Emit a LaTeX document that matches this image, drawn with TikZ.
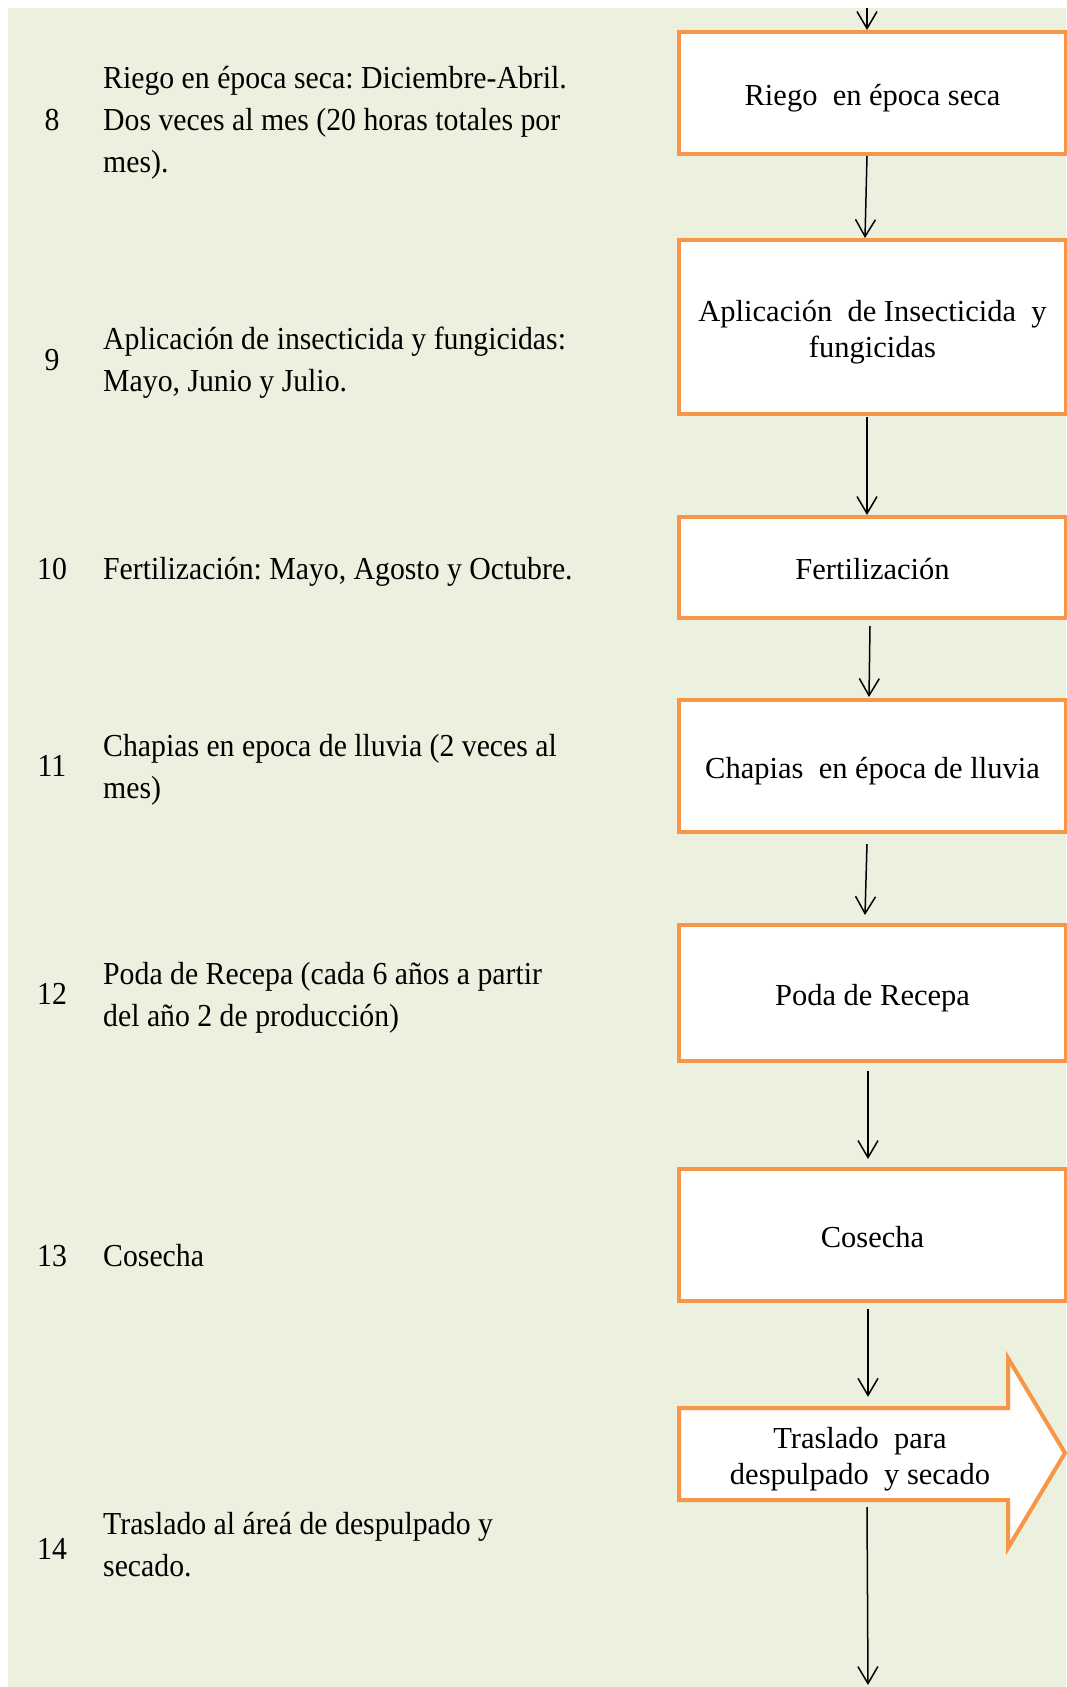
\documentclass[tikz,border=0pt]{standalone}
\usepackage{fontspec}
\setmainfont{Liberation Serif}
\newfontfamily\leftfont[FakeStretch=0.93]{Liberation Serif}
\usetikzlibrary{arrows.meta}
\definecolor{boxorange}{HTML}{F79646}
\definecolor{bggreen}{HTML}{EBF1DE}
\frenchspacing
\newcommand\leftfs{\leftfont\fontsize{32}{42}\selectfont\frenchspacing}
\newcommand\boxfs{\fontsize{30.5}{36}\selectfont\frenchspacing}
\begin{document}
\begin{tikzpicture}[x=1pt,y=-1pt,
  stepbox/.style={draw=boxorange, line width=4pt, fill=white, inner sep=0pt, minimum width=387pt, font=\boxfs, align=center},
  flow/.style={line width=1.5pt, -{Straight Barb[length=17pt,width=20pt]}},
  lefttxt/.style={anchor=base west, align=left, font=\leftfs, inner sep=0pt},
  numtxt/.style={anchor=base, font=\leftfs, inner sep=0pt},
  one/.style={text height=24pt, text depth=0pt},
  two/.style={text height=60pt, text depth=0pt}]
\useasboundingbox (0,0) rectangle (1066,1687);
\fill[white] (0,0) rectangle (1066,1687);
\fill[bggreen] (8,8) rectangle (1066,1687);

% left column (base anchor = baseline of the last line)
\node[lefttxt] (t8) at (103,172) {Riego en época seca: Diciembre-Abril.\\Dos veces al mes (20 horas totales por\\mes).};
\node[numtxt] (n8) at (52,130) {8};
\node[lefttxt] (t9) at (103,391) {Aplicación de insecticida y fungicidas:\\Mayo, Junio y Julio.};
\node[numtxt] (n9) at (52,370) {9};
\node[lefttxt] (t10) at (103,579) {Fertilización: Mayo, Agosto y Octubre.};
\node[numtxt] (n10) at (52,579) {10};
\node[lefttxt] (t11) at (103,798) {Chapias en epoca de lluvia (2 veces al\\mes)};
\node[numtxt] (n11) at (52,776) {11};
\node[lefttxt] (t12) at (103,1026) {Poda de Recepa (cada 6 años a partir\\del año 2 de producción)};
\node[numtxt] (n12) at (52,1004) {12};
\node[lefttxt] (t13) at (103,1266) {Cosecha};
\node[numtxt] (n13) at (52,1266) {13};
\node[lefttxt] (t14) at (103,1576) {Traslado al áreá de despulpado y\\secado.};
\node[numtxt] (n14) at (52,1559) {14};

% flow boxes
\node[stepbox, one, minimum height=122pt] (b1) at (872.5,93) {Riego\ \ en época seca};
\node[stepbox, two, minimum height=174pt] (b2) at (872.5,327) {Aplicación\ \ de Insecticida\ \ y\\fungicidas};
\node[stepbox, one, minimum height=101pt] (b3) at (872.5,567.5) {Fertilización};
\node[stepbox, one, minimum height=132pt] (b4) at (872.5,766) {Chapias\ \ en época de lluvia};
\node[stepbox, one, minimum height=136pt] (b5) at (872.5,993) {Poda de Recepa};
\node[stepbox, one, minimum height=132pt] (b6) at (872.5,1235) {Cosecha};
\draw[draw=boxorange, line width=4pt, fill=white, line join=miter]
  (679,1408) -- (1008,1408) -- (1008,1358) -- (1065,1453) -- (1008,1548) -- (1008,1500) -- (679,1500) -- cycle;
\node[two, font=\boxfs, align=center, inner sep=0pt, minimum width=329pt, minimum height=92pt] (b7) at (860,1454) {Traslado\ \ para\\despulpado\ \ y secado};

% connectors
\coordinate (top) at (867,8);
\coordinate (bottom) at (868,1685);
\draw[flow] (top) -- ([xshift=-5.5pt]b1.north);
\draw[flow] ([xshift=-5.5pt]b1.south) -- ([xshift=-7.5pt]b2.north);
\draw[flow] ([shift={(-5.5,1)}]b2.south) -- ([xshift=-5.5pt]b3.north);
\draw[flow] ([shift={(-2.5,6)}]b3.south) -- ([shift={(-3.5,-1)}]b4.north);
\draw[flow] ([shift={(-5.5,10)}]b4.south) -- ([shift={(-7.5,-8)}]b5.north);
\draw[flow] ([shift={(-4.5,8)}]b5.south) -- ([shift={(-4.5,-8)}]b6.north);
\draw[flow] ([shift={(-4.5,6)}]b6.south) -- ([shift={(8,-11)}]b7.north);
\draw[flow] ([shift={(7,7)}]b7.south) -- (bottom);
\end{tikzpicture}
\end{document}
